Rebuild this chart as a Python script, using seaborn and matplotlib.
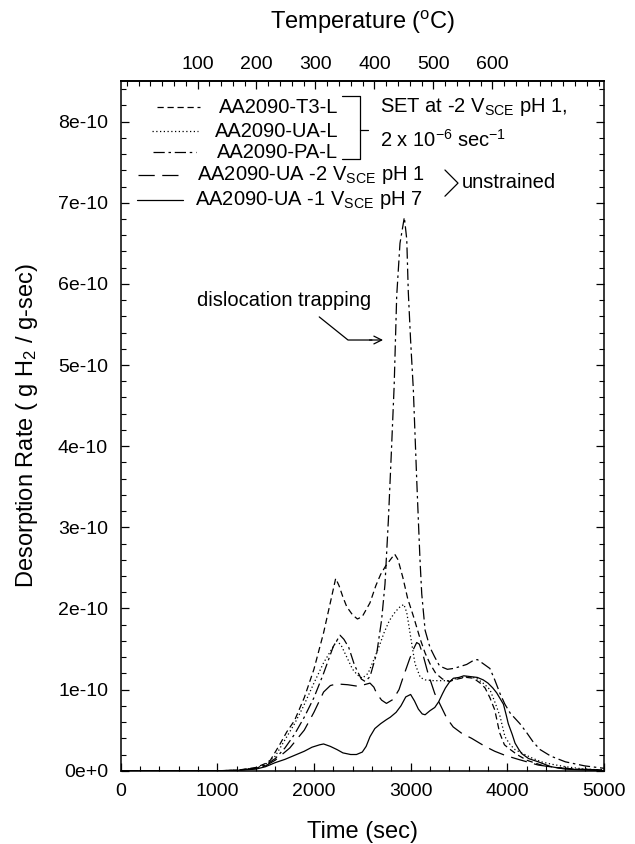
import numpy as np
import pandas as pd
import matplotlib
matplotlib.use("Agg")
import matplotlib.pyplot as plt
from matplotlib.ticker import MultipleLocator, FuncFormatter, FixedLocator
from matplotlib.lines import Line2D
import seaborn as sns

# ---------------------------------------------------------------- data
# desorption rate values are in units of 1e-10 g H2 / g-sec
RATE_UNIT = 1e-10

t3_time = [0, 1000, 1200, 1400, 1500, 1550, 1650, 1720, 1800, 1900, 2000, 2100, 2175,
           2225, 2260, 2300, 2340, 2400, 2450, 2500, 2580, 2640, 2690, 2740, 2790,
           2835, 2870, 2920, 2970, 3030, 3100, 3150, 3200, 3260, 3330, 3400, 3450,
           3520, 3580, 3650, 3720, 3770, 3820, 3870, 3920, 3970, 4010, 4100, 4200,
           4350, 4500, 4700, 5000]
t3_rate = [0, 0, 0.005, 0.04, 0.09, 0.13, 0.33, 0.48, 0.62, 0.90, 1.25, 1.70, 2.10,
           2.37, 2.28, 2.14, 2.02, 1.92, 1.87, 1.90, 2.07, 2.28, 2.42, 2.52, 2.60,
           2.67, 2.60, 2.38, 2.12, 1.90, 1.62, 1.45, 1.32, 1.20, 1.13, 1.10, 1.12,
           1.14, 1.15, 1.14, 1.08, 1.02, 0.90, 0.75, 0.47, 0.32, 0.28, 0.20, 0.13,
           0.07, 0.04, 0.02, 0.01]

ua_time = [0, 1000, 1200, 1400, 1500, 1600, 1720, 1800, 1890, 2000, 2100, 2170, 2235,
           2280, 2340, 2400, 2450, 2500, 2560, 2620, 2680, 2725, 2780, 2830, 2880,
           2930, 2960, 2995, 3045, 3100, 3150, 3240, 3400, 3450, 3530, 3600, 3680,
           3760, 3820, 3870, 3925, 3975, 4030, 4080, 4180, 4250, 4350, 4460, 4600,
           4800, 5000]
ua_rate = [0, 0, 0.005, 0.03, 0.08, 0.18, 0.42, 0.58, 0.79, 1.08, 1.33, 1.47, 1.60,
           1.55, 1.40, 1.25, 1.18, 1.14, 1.20, 1.37, 1.55, 1.70, 1.85, 1.94, 2.01,
           2.05, 1.95, 1.69, 1.32, 1.15, 1.12, 1.11, 1.11, 1.13, 1.15, 1.16, 1.14,
           1.07, 1.00, 0.85, 0.67, 0.42, 0.32, 0.26, 0.20, 0.16, 0.11, 0.08, 0.05,
           0.02, 0.01]

pa_time = [0, 1000, 1200, 1400, 1500, 1600, 1700, 1800, 1900, 2000, 2100, 2200, 2270,
           2310, 2360, 2420, 2490, 2530, 2580, 2650, 2700, 2735, 2770, 2800, 2830,
           2856, 2890, 2935, 2960, 2976, 3000, 3028, 3063, 3080, 3097, 3115, 3150,
           3200, 3250, 3300, 3380, 3440, 3500, 3580, 3650, 3690, 3750, 3820, 3870,
           3925, 3975, 4030, 4130, 4200, 4270, 4340, 4450, 4600, 4800, 5000]
pa_rate = [0, 0, 0.005, 0.03, 0.07, 0.15, 0.28, 0.45, 0.66, 0.90, 1.20, 1.53, 1.67,
           1.62, 1.52, 1.30, 1.13, 1.10, 1.16, 1.45, 1.86, 2.30, 3.09, 3.90, 4.75,
           5.85, 6.50, 6.82, 6.55, 5.90, 5.30, 4.70, 3.59, 3.09, 2.60, 2.18, 1.73,
           1.52, 1.40, 1.29, 1.25, 1.26, 1.28, 1.31, 1.36, 1.37, 1.32, 1.26, 1.12,
           0.95, 0.82, 0.71, 0.58, 0.47, 0.35, 0.26, 0.18, 0.11, 0.06, 0.03]

ph1_time = [0, 1000, 1200, 1400, 1500, 1600, 1750, 1900, 2000, 2100, 2170, 2235, 2350,
            2460, 2520, 2580, 2620, 2650, 2700, 2750, 2820, 2880, 2925, 2990, 3030,
            3063, 3090, 3130, 3180, 3250, 3320, 3373, 3440, 3530, 3630, 3770, 3870,
            3976, 4114, 4320, 4500, 4700, 5000]
ph1_rate = [0, 0, 0.005, 0.03, 0.06, 0.13, 0.28, 0.50, 0.72, 0.97, 1.05, 1.07, 1.06,
            1.04, 1.06, 1.08, 1.03, 0.95, 0.87, 0.83, 0.88, 1.00, 1.16, 1.38, 1.50,
            1.58, 1.56, 1.42, 1.20, 0.95, 0.78, 0.65, 0.54, 0.46, 0.40, 0.30, 0.24,
            0.19, 0.14, 0.07, 0.04, 0.02, 0.01]

ph7_time = [0, 1000, 1200, 1400, 1500, 1600, 1700, 1800, 1900, 1980, 2060, 2100, 2170,
            2240, 2300, 2380, 2440, 2500, 2540, 2580, 2630, 2690, 2750, 2790, 2850,
            2900, 2950, 3000, 3040, 3080, 3120, 3150, 3200, 3250, 3290, 3330, 3360,
            3400, 3442, 3500, 3550, 3620, 3690, 3750, 3800, 3850, 3890, 3930, 3960,
            3990, 4010, 4050, 4080, 4120, 4150, 4220, 4320, 4450, 4600, 5000]
ph7_rate = [0, 0, 0.005, 0.02, 0.05, 0.10, 0.14, 0.19, 0.24, 0.29, 0.32, 0.33, 0.30,
            0.26, 0.22, 0.20, 0.20, 0.23, 0.30, 0.42, 0.52, 0.58, 0.63, 0.66, 0.72,
            0.80, 0.91, 0.94, 0.86, 0.76, 0.70, 0.69, 0.74, 0.78, 0.85, 0.95, 1.02,
            1.09, 1.14, 1.15, 1.17, 1.16, 1.15, 1.12, 1.08, 1.02, 0.96, 0.88, 0.82,
            0.68, 0.58, 0.45, 0.34, 0.26, 0.21, 0.15, 0.11, 0.05, 0.02, 0.0]

series_labels = ["AA2090-T3-L", "AA2090-UA-L", "AA2090-PA-L",
                 r"AA2090-UA -2 V$_{\mathregular{SCE}}$ pH 1",
                 r"AA2090-UA -1 V$_{\mathregular{SCE}}$ pH 7"]

y_ticks = [0, 1, 2, 3, 4, 5, 6, 7, 8]          # in units of 1e-10
temp_ticks = [100, 200, 300, 400, 500, 600]    # deg C
# linear heating ramp relating time (s) to temperature (deg C)
T_START = -30.5
HEAT_RATE = 0.16393

# ---------------------------------------------------------------- style
sns.set_theme(style="ticks")
plt.rcParams["font.family"] = ["Liberation Sans", "DejaVu Sans"]
plt.rcParams["mathtext.fontset"] = "custom"
plt.rcParams["mathtext.rm"] = "Liberation Sans"
plt.rcParams["mathtext.it"] = "Liberation Sans:italic"
plt.rcParams["mathtext.bf"] = "Liberation Sans:bold"
for key in ("text.color", "axes.labelcolor", "xtick.color", "ytick.color",
            "axes.edgecolor"):
    plt.rcParams[key] = "black"

LW = 0.9
styles = [
    (0, (5, 3)),             # dashed
    (0, (1, 2)),             # dotted
    (0, (9, 3, 2, 3)),       # dash-dot
    (0, (13, 6)),            # long dash
    "-",                     # solid
]

frames = [
    pd.DataFrame({"t": t3_time, "r": np.array(t3_rate) * RATE_UNIT}),
    pd.DataFrame({"t": ua_time, "r": np.array(ua_rate) * RATE_UNIT}),
    pd.DataFrame({"t": pa_time, "r": np.array(pa_rate) * RATE_UNIT}),
    pd.DataFrame({"t": ph1_time, "r": np.array(ph1_rate) * RATE_UNIT}),
    pd.DataFrame({"t": ph7_time, "r": np.array(ph7_rate) * RATE_UNIT}),
]

fig = plt.figure(figsize=(6.35, 8.44), dpi=100)
ax = fig.add_axes([0.1898, 0.0868, 0.7614, 0.8172])

for df, ls in zip(frames, styles):
    sns.lineplot(data=df, x="t", y="r", ax=ax, color="black", linewidth=LW,
                 linestyle=ls, estimator=None, errorbar=None, sort=False)

ax.set_xlim(0, 5000)
ax.set_ylim(0, 8.5 * RATE_UNIT)

for s in ax.spines.values():
    s.set_visible(True)
    s.set_linewidth(1.1)
    s.set_color("black")

ax.xaxis.set_major_locator(MultipleLocator(1000))
ax.xaxis.set_minor_locator(MultipleLocator(200))
ax.yaxis.set_major_locator(FixedLocator([v * RATE_UNIT for v in y_ticks]))
ax.yaxis.set_minor_locator(MultipleLocator(0.2 * RATE_UNIT))


def rate_fmt(v, pos):
    m = int(round(v / RATE_UNIT))
    return f"{m}e-10" if m else "0e+0"


ax.yaxis.set_major_formatter(FuncFormatter(rate_fmt))
ax.tick_params(axis="both", which="both", direction="in", colors="black",
               labelcolor="black", labelsize=14, top=False, right=True,
               left=True, bottom=True)
ax.tick_params(axis="both", which="major", length=6, width=0.9, pad=9)
ax.tick_params(axis="both", which="minor", length=3.5, width=0.8)

ax.set_xlabel("Time (sec)", fontsize=17, labelpad=15, color="black")
ax.set_ylabel(r"Desorption Rate ( g H$_2$ / g-sec)", fontsize=17, labelpad=13,
              color="black")


def t2T(t):
    return T_START + HEAT_RATE * np.asarray(t)


def T2t(T):
    return (np.asarray(T) - T_START) / HEAT_RATE


top = ax.secondary_xaxis("top", functions=(t2T, T2t))
top.set_xticks(temp_ticks)
top.xaxis.set_minor_locator(MultipleLocator(20))
top.tick_params(axis="x", which="both", direction="in", labelsize=14,
                colors="black", labelcolor="black")
top.tick_params(axis="x", which="major", length=6, width=0.9, pad=6)
top.tick_params(axis="x", which="minor", length=3.5, width=0.8)
top.set_xlabel(r"Temperature ($^{\mathregular{o}}$C)", fontsize=17, labelpad=19,
               color="black")

# ---------------------------------------------------------------- key
TXT = 14.5
tr = ax.transAxes
key_rows = [
    # (x0, x1, y, text x, ha)
    (0.076, 0.164, 0.962, 0.450, "right"),
    (0.065, 0.160, 0.927, 0.450, "right"),
    (0.067, 0.156, 0.897, 0.450, "right"),
    (0.036, 0.133, 0.864, 0.158, "left"),
    (0.034, 0.129, 0.828, 0.154, "left"),
]
for (x0, x1, yk, xt, ha), ls, lab in zip(key_rows, styles, series_labels):
    ax.add_line(Line2D([x0, x1], [yk, yk], transform=tr, color="black",
                       linewidth=LW, linestyle=ls))
    ax.text(xt, yk, lab, transform=tr, ha=ha, va="center", fontsize=TXT,
            color="black")

# bracket grouping the strained specimens
bx0, bx1, bxt = 0.458, 0.4953, 0.512
ax.add_line(Line2D([bx0, bx1, bx1, bx0], [0.978, 0.978, 0.8867, 0.8867],
                   transform=tr, color="black", linewidth=0.9))
ax.add_line(Line2D([bx1, bxt], [0.9288, 0.9288], transform=tr, color="black",
                   linewidth=0.9))
ax.text(0.537, 0.962, r"SET at -2 V$_{\mathregular{SCE}}$ pH 1,", transform=tr,
        ha="left", va="center", fontsize=TXT, color="black")
ax.text(0.537, 0.914, r"2 x 10$^{\mathregular{-6}}$ sec$^{\mathregular{-1}}$",
        transform=tr, ha="left", va="center", fontsize=TXT, color="black")

# angle mark for the unstrained specimens
ax.add_line(Line2D([0.671, 0.698, 0.671], [0.871, 0.852, 0.833], transform=tr,
                   color="black", linewidth=0.9))
ax.text(0.706, 0.853, "unstrained", transform=tr, ha="left", va="center",
        fontsize=TXT, color="black")

# annotation of the trapping peak
ax.text(0.158, 0.682, "dislocation trapping", transform=tr, ha="left",
        va="center", fontsize=TXT, color="black")
ax.add_line(Line2D([0.411, 0.4705, 0.52], [0.658, 0.6245, 0.6245],
                   transform=tr, color="black", linewidth=0.9))
ax.annotate("", xy=(0.543, 0.6245), xytext=(0.515, 0.6245), xycoords=tr,
            textcoords=tr,
            arrowprops=dict(arrowstyle="->", color="black", lw=0.9,
                            mutation_scale=14, shrinkA=0, shrinkB=0))

fig.savefig("out.png", dpi=100, facecolor="white")
